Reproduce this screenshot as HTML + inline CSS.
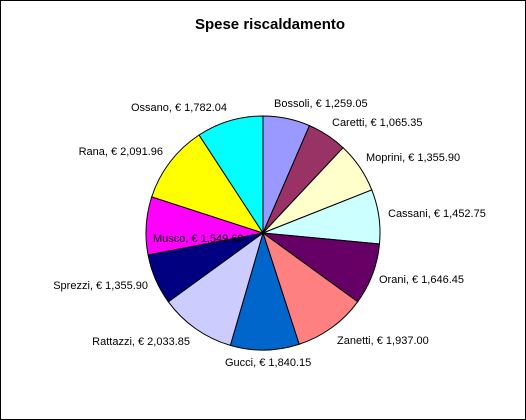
<!DOCTYPE html>
<html><head><meta charset="utf-8"><style>
html,body{margin:0;padding:0;background:#fff;}
svg{display:block;font-family:"Liberation Sans",Arial,sans-serif;}
</style></head><body>
<svg id="chart" width="526" height="420" viewBox="0 0 526 420">
<rect x="0.5" y="0.5" width="525" height="419" fill="#fff" stroke="#000"/>
<text x="270" y="29" text-anchor="middle" font-size="15" font-weight="bold">Spese riscaldamento</text>
<g id="slices"></g>
<g id="labels"></g>
</svg>
<script>
const names = ["Bossoli","Caretti","Moprini","Cassani","Orani","Zanetti","Gucci","Rattazzi","Sprezzi","Musco","Rana","Ossano"];
const values = [1259.05,1065.35,1355.90,1452.75,1646.45,1937.00,1840.15,2033.85,1355.90,1549.60,2091.96,1782.04];
const colors = ["#9999FF","#993366","#FFFFCC","#CCFFFF","#660066","#FF8080","#0066CC","#CCCCFF","#000080","#FF00FF","#FFFF00","#00FFFF"];
const labelPos = [[274,107,"start"],[332,126,"start"],[366,161,"start"],[388,217,"start"],[379,283,"start"],[337,344,"start"],[225,366,"start"],[190,345,"end"],[148,289,"end"],[153,242,"start"],[163,155,"end"],[227,111,"end"]];
const cx=263, cy=233, r=117;
const NS="http://www.w3.org/2000/svg";
const total=values.reduce((a,b)=>a+b,0);
let acc=0;
const sg=document.getElementById('slices'), lg=document.getElementById('labels');
function pt(a){return [cx+r*Math.sin(a), cy-r*Math.cos(a)];}
function fmt(v){return v.toLocaleString('en-US',{minimumFractionDigits:2,maximumFractionDigits:2});}
values.forEach((v,i)=>{
  const a0=acc/total*2*Math.PI; acc+=v; const a1=acc/total*2*Math.PI;
  const p0=pt(a0), p1=pt(a1);
  const large=(a1-a0)>Math.PI?1:0;
  const p=document.createElementNS(NS,'path');
  p.setAttribute('d',`M${cx},${cy}L${p0[0]},${p0[1]}A${r},${r} 0 ${large} 1 ${p1[0]},${p1[1]}Z`);
  p.setAttribute('fill',colors[i]); p.setAttribute('stroke','#000'); p.setAttribute('stroke-width','1');
  
  
  sg.appendChild(p);
});
values.forEach((v,i)=>{
  const t=document.createElementNS(NS,'text');
  t.setAttribute('x',labelPos[i][0]); t.setAttribute('y',labelPos[i][1]);
  t.setAttribute('text-anchor',labelPos[i][2]); t.setAttribute('font-size','11');
  t.textContent=names[i]+", € "+fmt(v);
  
  
  lg.appendChild(t);
});
</script>
</body></html>
